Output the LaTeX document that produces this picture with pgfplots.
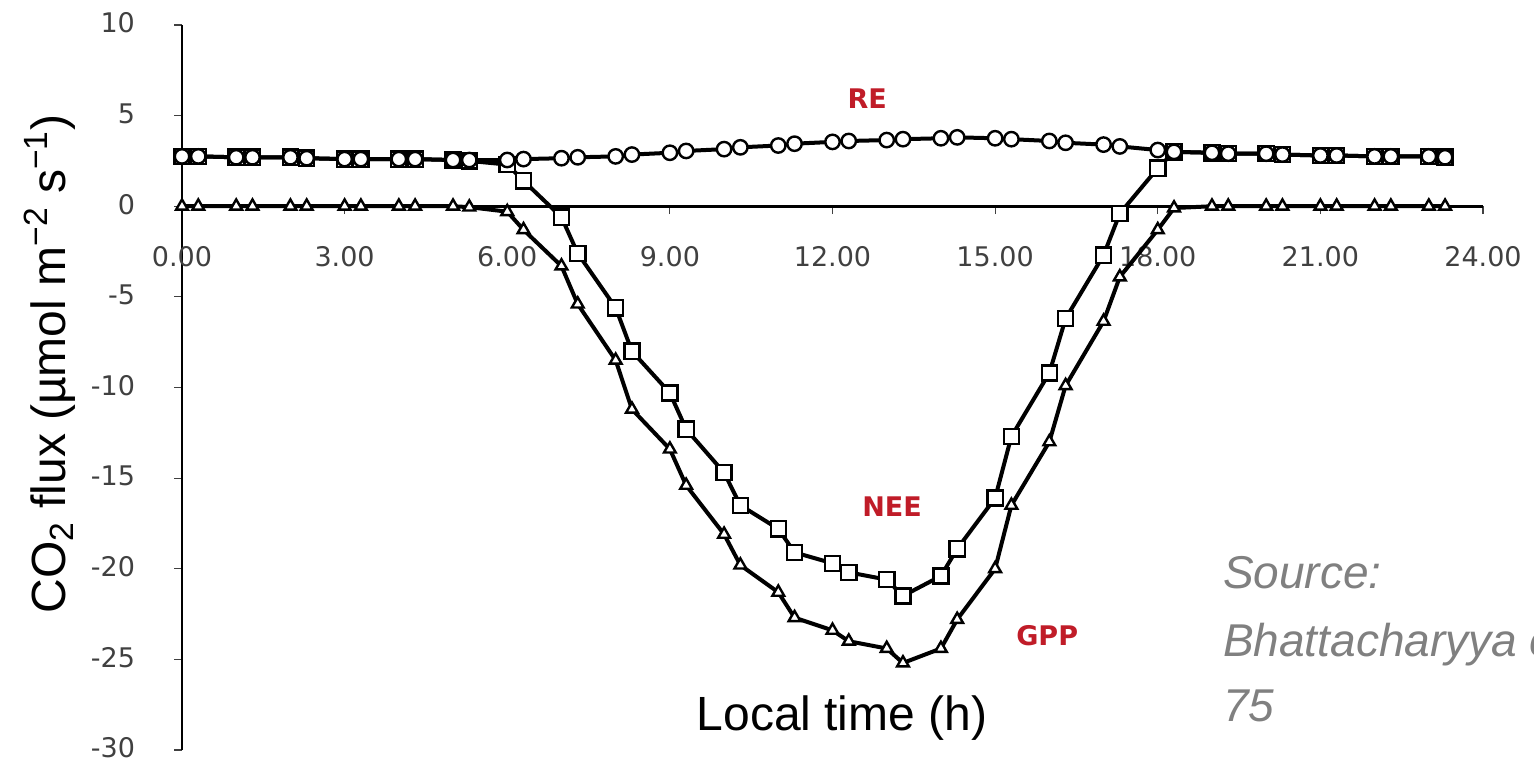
\documentclass[border=0pt]{standalone}
\usepackage{fontspec}
\setmainfont{Liberation Sans}
\newfontfamily\dejavu{DejaVu Sans}
\usepackage{pgfplots}
\pgfplotsset{compat=1.18}
\usepackage{pgfplotstable}
\definecolor{lbl}{RGB}{192,28,40}
\definecolor{tickgray}{RGB}{64,64,64}
\definecolor{srcgray}{RGB}{128,128,128}

\pgfplotstableread{
x y
0 2.75
0.3 2.75
1 2.7
1.3 2.7
2 2.7
2.3 2.65
3 2.6
3.3 2.6
4 2.6
4.3 2.6
5 2.55
5.3 2.55
6 2.55
6.3 2.6
7 2.65
7.3 2.7
8 2.75
8.3 2.85
9 2.95
9.3 3.05
10 3.15
10.3 3.25
11 3.35
11.3 3.45
12 3.55
12.3 3.6
13 3.65
13.3 3.7
14 3.75
14.3 3.8
15 3.75
15.3 3.7
16 3.6
16.3 3.5
17 3.4
17.3 3.3
18 3.1
18.3 3.0
19 2.95
19.3 2.9
20 2.9
20.3 2.85
21 2.8
21.3 2.8
22 2.75
22.3 2.75
23 2.75
23.3 2.7
}\REdata

\pgfplotstableread{
x y
0 2.75
0.3 2.75
1 2.7
1.3 2.7
2 2.7
2.3 2.65
3 2.6
3.3 2.6
4 2.6
4.3 2.6
5 2.55
5.3 2.5
6 2.3
6.3 1.4
7 -0.6
7.3 -2.6
8 -5.6
8.3 -8.0
9 -10.3
9.3 -12.3
10 -14.7
10.3 -16.5
11 -17.8
11.3 -19.1
12 -19.7
12.3 -20.2
13 -20.6
13.3 -21.5
14 -20.4
14.3 -18.9
15 -16.1
15.3 -12.7
16 -9.2
16.3 -6.2
17 -2.7
17.3 -0.4
18 2.1
18.3 3.0
19 2.95
19.3 2.9
20 2.9
20.3 2.85
21 2.8
21.3 2.8
22 2.75
22.3 2.75
23 2.75
23.3 2.7
}\NEEdata

\pgfplotstableread{
x y
0 0
0.3 0
1 0
1.3 0
2 0
2.3 0
3 0
3.3 0
4 0
4.3 0
5 0
5.3 -0.05
6 -0.3
6.3 -1.3
7 -3.3
7.3 -5.4
8 -8.5
8.3 -11.2
9 -13.4
9.3 -15.4
10 -18.1
10.3 -19.8
11 -21.3
11.3 -22.7
12 -23.4
12.3 -24.0
13 -24.4
13.3 -25.2
14 -24.4
14.3 -22.8
15 -20.0
15.3 -16.5
16 -13.0
16.3 -9.9
17 -6.35
17.3 -3.9
18 -1.3
18.3 -0.1
19 0
19.3 0
20 0
20.3 0
21 0
21.3 0
22 0
22.3 0
23 0
23.3 0
}\GPPdata

\begin{document}
\begin{tikzpicture}
\useasboundingbox (0,0) rectangle (767pt,381.5pt);
\clip (0,0) rectangle (767pt,381.5pt);
\begin{axis}[
  at={(91pt,6.5pt)}, anchor=south west,
  scale only axis, width=650.5pt, height=362.5pt,
  xmin=0, xmax=24, ymin=-30, ymax=10,
  axis x line=middle, axis y line=left,
  axis line style={-, line width=1.3pt, black},
  hide obscured x ticks=false, hide obscured y ticks=false,
  xtick={0,3,...,24},
  xticklabels={0.00,3.00,6.00,9.00,12.00,15.00,18.00,21.00,24.00},
  ytick={-30,-25,...,10},
  yticklabels={-30,-25,-20,-15,-10,-5,0,5,10},
  tick align=outside, major tick length=4pt,
  tick style={tickgray, line width=0.6pt},
  xticklabel style={font=\dejavu\fontsize{13.5}{16}\selectfont, text=tickgray, yshift=-12.5pt},
  yticklabel style={font=\dejavu\fontsize{13.5}{16}\selectfont, text=tickgray, xshift=-16pt, yshift=1pt},
  clip=false,
]
\addplot[black, line width=2pt, mark=triangle*, mark size=3.4pt,
  mark options={solid, fill=white, draw=black, line width=1.2pt}] table[x=x,y=y] {\GPPdata};
\addplot[black, line width=2pt, mark=square*, mark size=3.8pt,
  mark options={solid, fill=white, draw=black, line width=1.2pt}] table[x=x,y=y] {\NEEdata};
\addplot[black, line width=2pt, mark=*, mark size=3.6pt,
  mark options={solid, fill=white, draw=black, line width=1.2pt}] table[x=x,y=y] {\REdata};
\node[font=\dejavu\bfseries\fontsize{13.5}{16}\selectfont, text=lbl] at (axis cs:12.64,5.96) {RE};
\node[font=\dejavu\bfseries\fontsize{13.5}{16}\selectfont, text=lbl] at (axis cs:13.1,-16.6) {NEE};
\node[font=\dejavu\bfseries\fontsize{13.5}{16}\selectfont, text=lbl] at (axis cs:15.96,-23.7) {GPP};
\end{axis}
\node[rotate=90, font=\fontsize{24}{28}\selectfont] at (25pt,199.5pt)
  {CO\textsubscript{2} flux (µmol m\textsuperscript{−2} s\textsuperscript{−1})};
\node[font=\fontsize{24}{28}\selectfont] at (421pt,22.5pt) {Local time (h)};
\node[anchor=base west, font=\itshape\fontsize{23}{27}\selectfont, text=srcgray] at (608pt,87pt) {Source:};
\node[anchor=base west, font=\itshape\fontsize{23}{27}\selectfont, text=srcgray] at (608pt,53pt) {Bhattacharyya et al.};
\node[anchor=base west, font=\itshape\fontsize{23}{27}\selectfont, text=srcgray] at (608pt,20.5pt) {75};
\end{tikzpicture}
\end{document}
